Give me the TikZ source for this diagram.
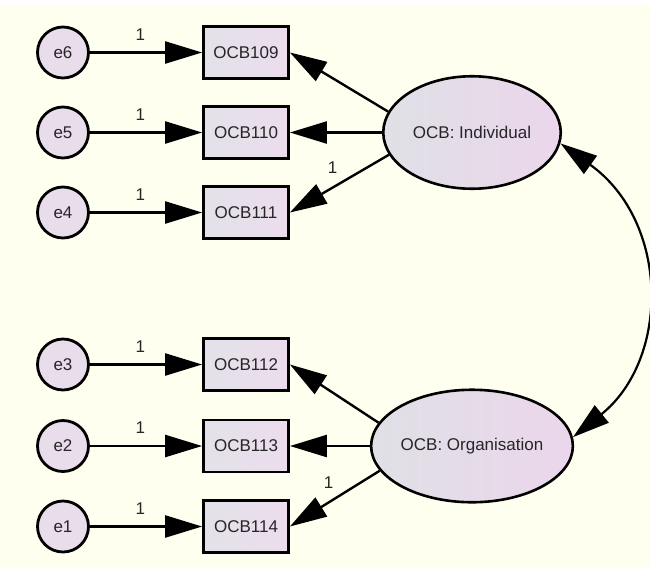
\documentclass[tikz,border=0pt]{standalone}
\usepackage{fontspec}
\setmainfont{Liberation Sans}
\usetikzlibrary{arrows.meta,shapes.geometric}
\definecolor{paper}{HTML}{FFFFF0}
\definecolor{txt}{HTML}{262626}
\definecolor{errfill}{HTML}{E9DDEB}
\definecolor{boxL}{HTML}{E3E2EA}
\definecolor{boxR}{HTML}{ECDCEC}
\definecolor{latL}{HTML}{E0E0E6}
\definecolor{latR}{HTML}{EBD6EB}
\begin{document}
\begin{tikzpicture}[x=1pt,y=-1pt,
  font=\fontsize{17}{19}\selectfont,
  err/.style={circle, draw, line width=2.8pt, minimum size=51pt, inner sep=0pt, fill=errfill, text=txt},
  obs/.style={rectangle, draw, line width=2.8pt, minimum width=85pt, minimum height=52pt, inner sep=0pt, left color=boxL, right color=boxR, text=txt},
  lat/.style={ellipse, draw, line width=2.6pt, minimum width=177.5pt, minimum height=112.5pt, inner sep=0pt, left color=latL, right color=latR, text=txt},
  reg/.style={line width=2.4pt, -{Triangle[length=37pt,width=22pt]}},
  cov/.style={line width=2.2pt, {Triangle[length=37pt,width=22pt]}-{Triangle[length=37pt,width=22pt]}},
  lbl/.style={inner sep=0pt, text=txt}
]
% canvas
\fill[paper] (0,0) rectangle (650,568);
\fill[white] (0,0) rectangle (650,5);
\useasboundingbox (0,0) rectangle (650,568);

% error terms
\node[err] (e6) at (63,52.5)  {e6};
\node[err] (e5) at (63,132.5) {e5};
\node[err] (e4) at (63,212.5) {e4};
\node[err] (e3) at (63,364.5) {e3};
\node[err] (e2) at (63,446)   {e2};
\node[err] (e1) at (63,526.5) {e1};

% observed indicators
\node[obs] (b109) at (246,52.5)  {OCB109};
\node[obs] (b110) at (246,132.5) {OCB110};
\node[obs] (b111) at (246,212.5) {OCB111};
\node[obs] (b112) at (246,364.5) {OCB112};
\node[obs] (b113) at (246,446)   {OCB113};
\node[obs] (b114) at (246,526.5) {OCB114};

% latent factors
\node[lat] (ind) at (472,132.5) {OCB: Individual};
\node[lat] (org) at (472,446)   {OCB: Organisation};

% error paths
\foreach \e/\b in {e6/b109,e5/b110,e4/b111,e3/b112,e2/b113,e1/b114}
  \draw[reg] (\e) -- node[lbl, pos=.45, above=11pt] {1} (\b);

% factor loadings
\draw[reg] (ind.166) -- (b109.east);
\draw[reg] (ind.west) -- (b110.east);
\draw[reg] (ind.195) -- node[lbl, pos=.57, above=13pt] {1} (b111.east);
\draw[reg] (org.166) -- (b112.east);
\draw[reg] (org.west) -- (b113.east);
\draw[reg] (org.195) -- node[lbl, pos=.57, above=13pt] {1} (b114.east);

% covariance between factors
\draw[cov] (ind.-7) .. controls (670,222) and (670,359) .. (org.5);
\end{tikzpicture}
\end{document}
